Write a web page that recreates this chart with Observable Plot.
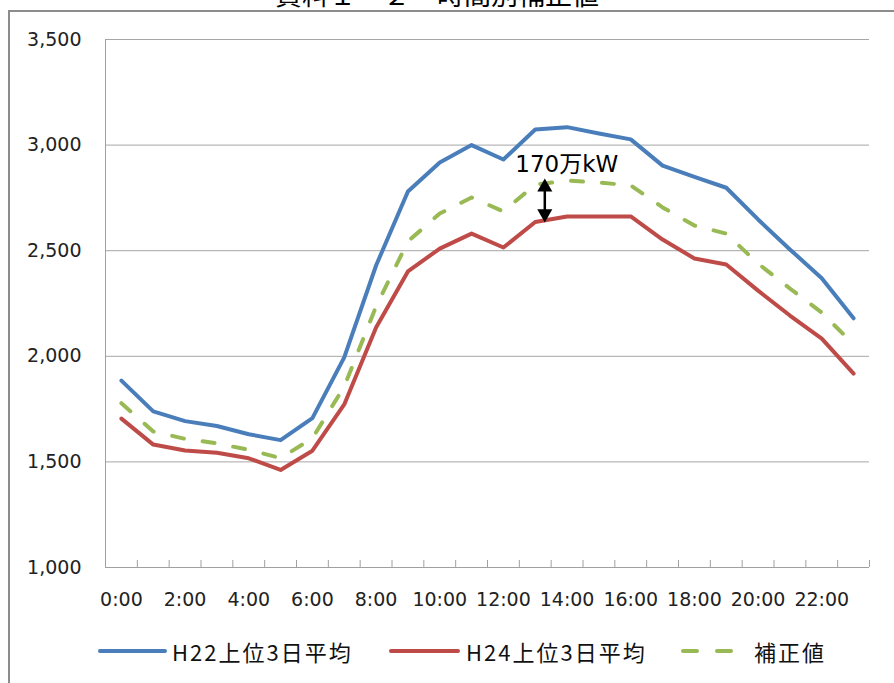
<!DOCTYPE html>
<html><head><meta charset="utf-8">
<script src="https://cdn.jsdelivr.net/npm/d3@7"></script>
<script src="https://cdn.jsdelivr.net/npm/@observablehq/plot@0.6"></script>
<style>
html,body{margin:0;padding:0;background:#fff;overflow:hidden}
body{width:894px;height:683px;position:relative;font-family:"DejaVu Sans","Noto Sans CJK JP",sans-serif;}
#chart{position:absolute;left:0;top:0}
#frame{position:absolute;left:8px;top:10px;width:1000px;height:800px;border-left:2px solid #8c8c8c;border-top:2px solid #8c8c8c;pointer-events:none}
#title{position:absolute;top:-21px;left:0;width:874px;text-align:center;font-family:"Noto Sans CJK JP",sans-serif;font-size:27px;line-height:30px;color:#000;white-space:nowrap}
.lg{position:absolute;top:638px;height:26px;display:flex;align-items:center;font-family:"Noto Sans CJK JP",sans-serif;font-size:22px;letter-spacing:2px;color:#111;white-space:nowrap}
</style>
</head><body>
<div id="title">資料１－２　時間別補正値</div>
<div id="chart"></div>
<div id="frame"></div>
<div id="legend"></div>
<script>
// Categories (hourly)
const hours = ["0:00","1:00","2:00","3:00","4:00","5:00","6:00","7:00","8:00","9:00","10:00","11:00",
               "12:00","13:00","14:00","15:00","16:00","17:00","18:00","19:00","20:00","21:00","22:00","23:00"];
// Series values (万kW)
const h22 = [1885,1739,1693,1670,1631,1603,1707,1995,2430,2780,2918,3000,2932,3074,3085,3055,3027,2903,2850,2798,2648,2506,2370,2180];
const h24 = [1705,1582,1554,1543,1517,1462,1553,1772,2136,2402,2510,2581,2515,2636,2662,2662,2662,2553,2463,2435,2311,2193,2084,1918];
const adj = [1778,1644,1609,1588,1557,1518,1612,1857,2236,2544,2676,2752,2686,2813,2832,2823,2809,2705,2619,2581,2439,2321,2207,2056];
// Series names
const names = ["H22上位3日平均","H24上位3日平均","補正値"];
// Y tick values
const yTicks = [1000,1500,2000,2500,3000,3500];
// X tick labels (every other hour)
const xLabelIdx = [0,2,4,6,8,10,12,14,16,18,20,22];
// Annotation
const noteX = 13.3, noteTop = 2842, noteBottom = 2634, noteLabel = "170万kW";

const colors = ["#4A7EBB","#BE4B48","#98B954"];
const idx = hours.map((_, i) => i);
const boundaries = d3.range(hours.length + 1).map(i => i - 0.5);

const chart = Plot.plot({
  width: 894, height: 625,
  marginLeft: 105, marginRight: 25, marginTop: 39, marginBottom: 58,
  style: {fontFamily: '"DejaVu Sans","Noto Sans CJK JP",sans-serif', fontSize: "19px", color: "#222", background: "transparent"},
  x: {type: "linear", domain: [-0.5, hours.length - 0.5]},
  y: {domain: [1000, 3500]},
  marks: [
    Plot.gridY(yTicks.slice(1), {stroke: "#a6a6a6", strokeOpacity: 1}),
    Plot.ruleY([1000], {stroke: "#a0a0a0"}),
    Plot.ruleX([-0.5], {stroke: "#8aa4cc"}),
    Plot.axisX(boundaries, {tickSize: -7, tickFormat: () => "", stroke: "#a0a0a0"}),
    Plot.axisX(xLabelIdx, {tickSize: 0, tickPadding: 25, tickFormat: i => hours[i], fill: "#222"}),
    Plot.axisY(yTicks, {tickSize: 0, tickPadding: 24, tickFormat: d3.format(","), fill: "#222"}),
    Plot.line(idx, {x: i => i, y: i => h22[i], stroke: colors[0], strokeWidth: 4, strokeLinejoin: "round", strokeLinecap: "round"}),
    Plot.line(idx, {x: i => i, y: i => h24[i], stroke: colors[1], strokeWidth: 4, strokeLinejoin: "round", strokeLinecap: "round"}),
    Plot.line(idx, {x: i => i, y: i => adj[i], stroke: colors[2], strokeWidth: 4, strokeDasharray: "12,19", strokeLinejoin: "round", strokeLinecap: "round"}),
    Plot.ruleX([noteX], {y1: noteTop, y2: noteBottom, stroke: "#000", strokeWidth: 2.5, insetTop: 6, insetBottom: 6}),
    Plot.dot([noteX], {x: d => d, y: noteTop, symbol: "triangle", r: 5.6, fill: "#000", stroke: null, dy: 8.7}),
    Plot.dot([noteX], {x: d => d, y: noteBottom, symbol: "triangle", r: 5.6, fill: "#000", stroke: null, dy: -8.7, rotate: 180}),
    Plot.text([noteLabel], {x: noteX, y: noteTop, text: d => d, dx: 22, dy: -6, lineAnchor: "bottom", fontSize: 23, fill: "#000"})
  ]
});
document.getElementById("chart").appendChild(chart);

// Legend
const legend = document.getElementById("legend");
const items = [
  {line: [100, 165], text: 172, dash: false},
  {line: [391, 458], text: 466, dash: false},
  {line: [683, 731], text: 754, dash: true}
];
items.forEach((it, k) => {
  const w = it.line[1] - it.line[0];
  const sw = document.createElementNS("http://www.w3.org/2000/svg", "svg");
  sw.setAttribute("width", w + 4); sw.setAttribute("height", 10);
  sw.style.position = "absolute"; sw.style.left = (it.line[0] - 2) + "px"; sw.style.top = "646px";
  const ln = document.createElementNS("http://www.w3.org/2000/svg", "line");
  ln.setAttribute("x1", 2); ln.setAttribute("x2", w + 2); ln.setAttribute("y1", 5); ln.setAttribute("y2", 5);
  ln.setAttribute("stroke", colors[k]); ln.setAttribute("stroke-width", 4); ln.setAttribute("stroke-linecap", "round");
  if (it.dash) ln.setAttribute("stroke-dasharray", "14,20");
  sw.appendChild(ln); legend.appendChild(sw);
  const t = document.createElement("div");
  t.className = "lg"; t.style.left = it.text + "px"; t.textContent = names[k];
  legend.appendChild(t);
});
</script>
</body></html>
